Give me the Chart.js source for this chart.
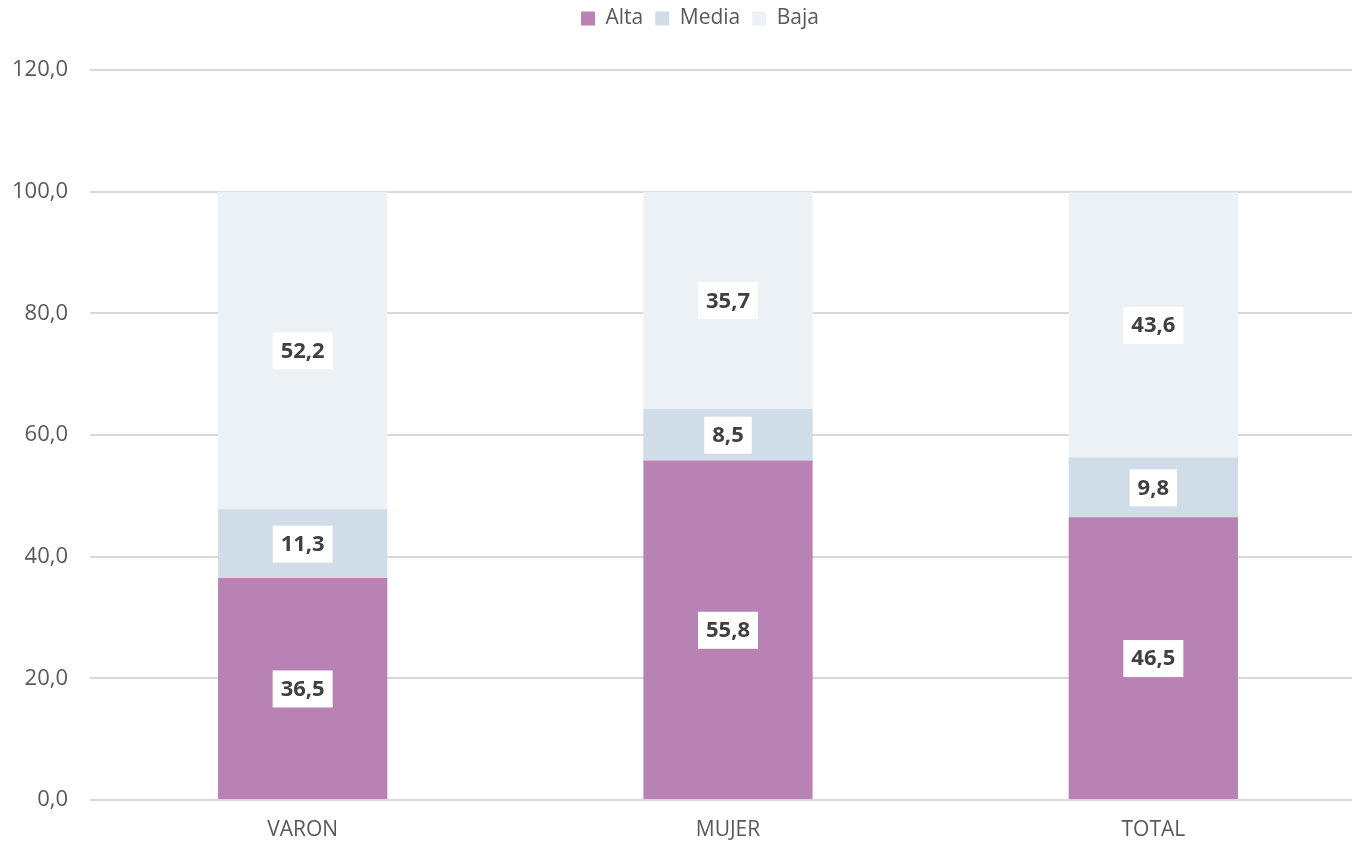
<!DOCTYPE html>
<html>
<head>
<meta charset="utf-8">
<script src="https://cdn.jsdelivr.net/npm/chart.js@4"></script>
<style>
  html, body { margin: 0; padding: 0; background: #fff; overflow: hidden; }
  #wrap { width: 1352px; height: 845px; overflow: hidden; }
</style>
</head>
<body>
<div id="wrap"><canvas id="grafico" width="1366" height="845"></canvas></div>
<script>
// Datos
const categorias = ['VARON', 'MUJER', 'TOTAL'];
const alta = [36.5, 55.8, 46.5];
const media = [11.3, 8.5, 9.8];
const baja = [52.2, 35.7, 43.6];

const fmt = v => v.toFixed(1).replace('.', ',');
const fuente = '"Open Sans", sans-serif';

// etiquetas con caja blanca en el centro de cada segmento
const etiquetas = {
    id: 'etiquetas',
    afterDatasetsDraw(chart) {
        const ctx = chart.ctx;
        ctx.save();
        ctx.font = 'bold 22px ' + fuente;
        ctx.textAlign = 'center';
        ctx.textBaseline = 'middle';
        chart.data.datasets.forEach((ds, i) => {
            chart.getDatasetMeta(i).data.forEach((bar, j) => {
                const txt = fmt(ds.data[j]);
                const y = (bar.y + bar.base) / 2;
                const w = ctx.measureText(txt).width + 16;
                ctx.fillStyle = '#ffffff';
                ctx.fillRect(bar.x - w / 2, y - 18, w, 37);
                ctx.fillStyle = '#404040';
                ctx.fillText(txt, bar.x, y + 1);
            });
        });
        ctx.restore();
    }
};

// leyenda: más espacio debajo y algo desplazada
const espacioLeyenda = {
    id: 'espacioLeyenda',
    beforeInit(chart) {
        const lg = chart.legend;
        const fitOrig = lg.fit;
        lg.fit = function () {
            fitOrig.call(this);
            this.height = 70;
        };
        const drawOrig = lg.draw;
        lg.draw = function (area) {
            chart.ctx.save();
            chart.ctx.translate(10, -4);
            drawOrig.call(this, area);
            chart.ctx.restore();
        };
    }
};

document.addEventListener('DOMContentLoaded', function () {
    const ctx = document.getElementById('grafico').getContext('2d');
    new Chart(ctx, {
        type: 'bar',
        data: {
            labels: categorias,
            datasets: [
                { label: 'Alta', data: alta, backgroundColor: '#B982B5' },
                { label: 'Media', data: media, backgroundColor: '#D0DDE8' },
                { label: 'Baja', data: baja, backgroundColor: '#EBF1F5' }
            ]
        },
        options: {
            responsive: false,
            animation: false,
            layout: { padding: { left: 14, right: 0, top: 0, bottom: 2 } },
            datasets: { bar: { barPercentage: 0.398, categoryPercentage: 1 } },
            plugins: {
                legend: {
                    position: 'top',
                    labels: {
                        boxWidth: 14, boxHeight: 14, padding: 12,
                        color: '#595959',
                        font: { family: fuente, size: 21 }
                    }
                },
                tooltip: { enabled: false }
            },
            scales: {
                x: {
                    stacked: true,
                    grid: { display: false, drawTicks: false },
                    border: { display: false },
                    afterFit: s => { s.height = 43; },
                    ticks: { color: '#595959', padding: 17, font: { family: fuente, size: 21 } }
                },
                y: {
                    stacked: true,
                    min: 0, max: 120,
                    grid: { color: '#D9D9D9', lineWidth: 2, drawTicks: false },
                    border: { display: false },
                    afterFit: s => { s.width = 76; },
                    ticks: {
                        stepSize: 20, padding: 22, color: '#595959',
                        font: { family: fuente, size: 22 },
                        callback: v => fmt(v)
                    }
                }
            }
        },
        plugins: [etiquetas, espacioLeyenda]
    });
});
</script>
</body>
</html>
